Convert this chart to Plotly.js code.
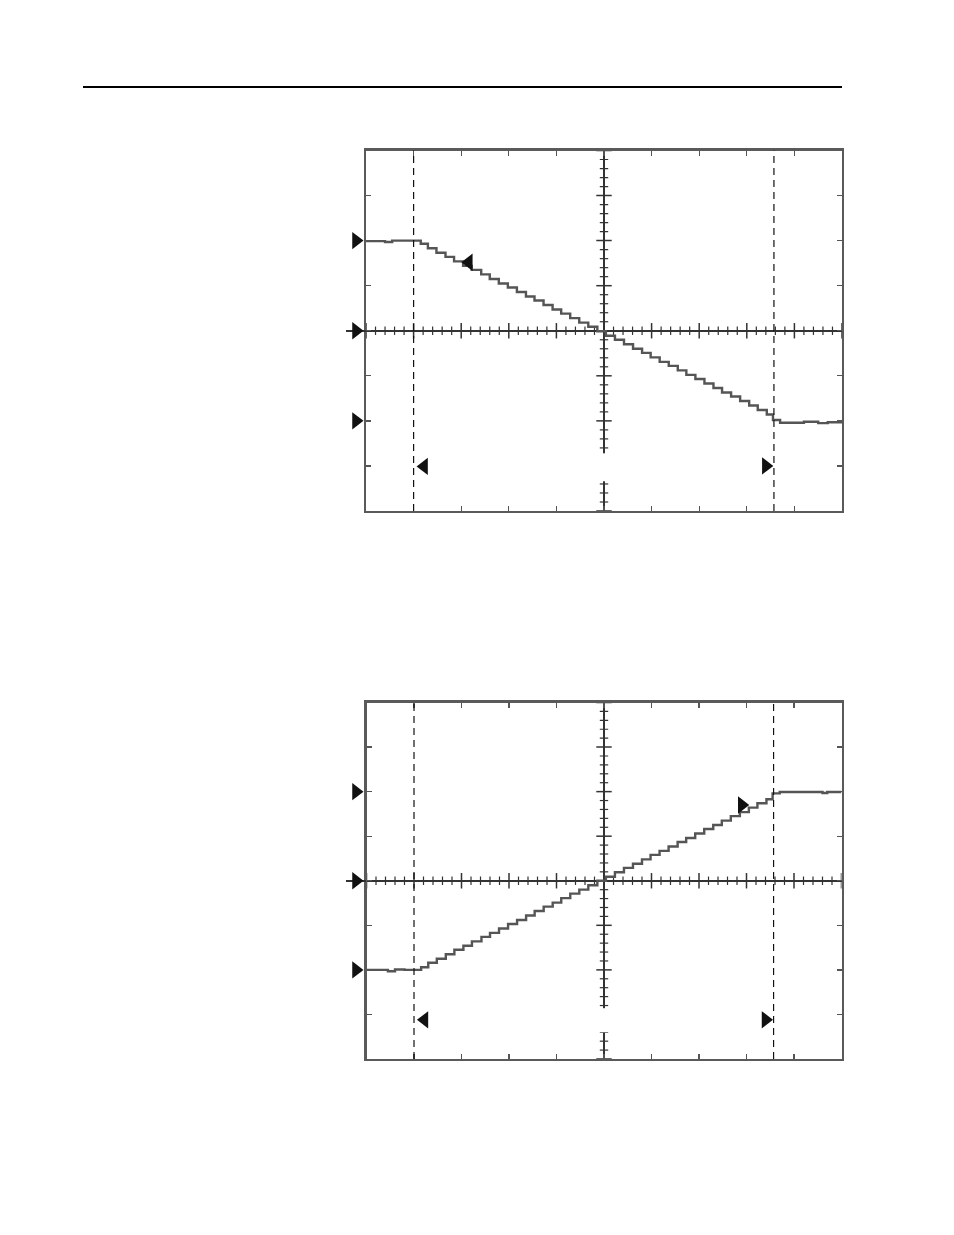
<!DOCTYPE html>
<html><head><meta charset="utf-8">
<script src="https://cdn.plot.ly/plotly-3.0.1.min.js"></script>
<style>html,body{margin:0;padding:0;background:#fff}</style>
</head><body><div id="chart" style="width:954px;height:1235px"></div>
<script>
// ---- Data (screen divisions: x -5..5, y -4..4) ----
const topX = [-5.0,-4.6,-4.45,-4.25,
  -4.0,-3.85,-3.7,-3.52,-3.33,-3.15,-2.96,-2.78,-2.58,-2.4,-2.21,-2.02,-1.83,-1.64,-1.46,-1.27,-1.08,-0.9,-0.71,-0.52,-0.33,-0.14,0.04,0.23,0.42,0.61,0.8,0.98,1.17,1.36,1.55,1.73,1.92,2.11,2.3,2.48,2.67,2.86,3.05,3.23,3.42,3.55,
  3.7,4.2,4.5,4.7,5.0];
const topY = [1.99,1.97,2.0,2.0,
  2.00,1.93,1.83,1.73,1.64,1.54,1.44,1.35,1.25,1.15,1.05,0.96,0.86,0.76,0.67,0.57,0.47,0.38,0.28,0.18,0.09,-0.01,-0.11,-0.20,-0.30,-0.40,-0.49,-0.59,-0.69,-0.78,-0.88,-0.98,-1.07,-1.17,-1.27,-1.37,-1.46,-1.56,-1.66,-1.76,-1.86,-1.98,
  -2.04,-2.02,-2.05,-2.03,-2.03];
const botX = [-5.0,-4.55,-4.4,-4.2,
  -4.0,-3.85,-3.7,-3.52,-3.33,-3.15,-2.96,-2.78,-2.58,-2.4,-2.21,-2.02,-1.83,-1.64,-1.46,-1.27,-1.08,-0.9,-0.71,-0.52,-0.33,-0.14,0.04,0.23,0.42,0.61,0.8,0.98,1.17,1.36,1.55,1.73,1.92,2.11,2.3,2.48,2.67,2.86,3.05,3.23,3.42,3.55,
  3.7,4.1,4.6,4.7,5.0];
const botY = [-2.0,-2.03,-1.99,-2.0,
  -2.00,-1.94,-1.84,-1.75,-1.65,-1.55,-1.46,-1.36,-1.26,-1.17,-1.07,-0.97,-0.88,-0.78,-0.68,-0.58,-0.49,-0.39,-0.29,-0.20,-0.10,0.00,0.09,0.19,0.29,0.38,0.48,0.58,0.67,0.77,0.87,0.96,1.06,1.16,1.25,1.35,1.45,1.54,1.64,1.74,1.83,1.96,
  1.99,1.99,1.97,1.99,1.99];
const levelMarksTop = [2, 0, -2];
const levelMarksBot = [2, 0, -2];
const cursorX = [-4.0, 3.57];
// cursor arrows: [x, y]
const topArrowsL = {x:[-2.84,-3.78], y:[1.52,-3.01]};
const topArrowsR = {x:[3.4], y:[-3.0]};
const botArrowsL = {x:[-3.78], y:[-3.12]};
const botArrowsR = {x:[2.9,3.4], y:[1.70,-3.12]};

// ---- Build ----
const traces = [];
function centerTicks(xa, ya){
  const mx=[],Mx=[],vy=[],VY=[];
  for(let i=-25;i<=25;i++){ const v=i/5; if(i%5===0){Mx.push(v);} else {mx.push(v);} }
  for(let i=-20;i<=20;i++){ const v=i/5; if(i%5===0){VY.push(v);} else {vy.push(v);} }
  const c='#333';
  traces.push({x:mx,y:mx.map(()=>0),xaxis:xa,yaxis:ya,mode:'markers',hoverinfo:'skip',
    marker:{symbol:'line-ns',size:6,line:{color:c,width:1.2}}});
  traces.push({x:Mx,y:Mx.map(()=>0),xaxis:xa,yaxis:ya,mode:'markers',hoverinfo:'skip',
    marker:{symbol:'line-ns',size:11,line:{color:c,width:1.5}}});
  traces.push({x:vy.map(()=>0),y:vy,xaxis:xa,yaxis:ya,mode:'markers',hoverinfo:'skip',
    marker:{symbol:'line-ew',size:6,line:{color:c,width:1.2}}});
  traces.push({x:VY.map(()=>0),y:VY,xaxis:xa,yaxis:ya,mode:'markers',hoverinfo:'skip',
    marker:{symbol:'line-ew',size:11,line:{color:c,width:1.5}}});
}
centerTicks('x','y');
centerTicks('x2','y2');

traces.push({x:topX,y:topY,xaxis:'x',yaxis:'y',mode:'lines',line:{shape:'hv',color:'#555',width:2.4},hoverinfo:'skip'});
traces.push({x:botX,y:botY,xaxis:'x2',yaxis:'y2',mode:'lines',line:{shape:'hv',color:'#555',width:2.4},hoverinfo:'skip'});

function tri(xs,ys,sym,xa,ya){
  traces.push({x:xs,y:ys,xaxis:xa,yaxis:ya,mode:'markers',hoverinfo:'skip',
    marker:{symbol:sym,size:15,color:'#111',line:{width:0}}});
}
// level markers on narrow strip axes left of each screen
tri(levelMarksTop.map(()=>0.5),levelMarksTop,'triangle-right','x3','y');
tri(levelMarksBot.map(()=>0.5),levelMarksBot,'triangle-right','x4','y2');
tri(topArrowsL.x,topArrowsL.y,'triangle-left','x','y');
tri(topArrowsR.x,topArrowsR.y,'triangle-right','x','y');
tri(botArrowsL.x,botArrowsL.y,'triangle-left','x2','y2');
tri(botArrowsR.x,botArrowsR.y,'triangle-right','x2','y2');

const axBase = {range:[-5,5],dtick:1,tick0:0,ticks:'inside',ticklen:5,tickwidth:1.3,tickcolor:'#555',
  showticklabels:false,showgrid:false,showline:true,mirror:'ticks',linecolor:'#5a5a5a',linewidth:2.2,
  zeroline:true,zerolinecolor:'#333',zerolinewidth:1.5,fixedrange:true};
const ayBase = Object.assign({},axBase,{range:[-4,4]});
const stripAx = {range:[0,1],visible:false,showgrid:false,zeroline:false,fixedrange:true};

const shapes = [];
cursorX.forEach(cx=>{
  shapes.push({type:'line',xref:'x',yref:'y domain',x0:cx,x1:cx,y0:0,y1:1,line:{color:'#111',width:1.2,dash:'7px,5px'}});
  shapes.push({type:'line',xref:'x2',yref:'y2 domain',x0:cx,x1:cx,y0:0,y1:1,line:{color:'#111',width:1.2,dash:'7px,5px'}});
});
// blanked label zone on the centre axis
shapes.push({type:'rect',xref:'x',yref:'y',x0:-0.25,x1:0.25,y0:-3.34,y1:-2.72,fillcolor:'#fff',line:{width:0},layer:'above'});
shapes.push({type:'rect',xref:'x2',yref:'y2',x0:-0.25,x1:0.25,y0:-3.4,y1:-2.86,fillcolor:'#fff',line:{width:0},layer:'above'});
// page rule
shapes.push({type:'line',xref:'paper',yref:'paper',x0:83/954,x1:842/954,y0:1-87/1235,y1:1-87/1235,line:{color:'#000',width:2}});

const layout = {
  width:954,height:1235,autosize:false,margin:{l:0,r:0,t:0,b:0,pad:0},
  paper_bgcolor:'#fff',plot_bgcolor:'rgba(0,0,0,0)',showlegend:false,
  xaxis:Object.assign({},axBase,{domain:[366/954,842/954],anchor:'y'}),
  yaxis:Object.assign({},ayBase,{domain:[1-511/1235,1-150.5/1235],anchor:'x'}),
  xaxis2:Object.assign({},axBase,{domain:[366.5/954,841.5/954],anchor:'y2'}),
  yaxis2:Object.assign({},ayBase,{domain:[1-1059/1235,1-702.5/1235],anchor:'x2'}),
  xaxis3:Object.assign({},stripAx,{domain:[346/954,366/954],anchor:'y'}),
  xaxis4:Object.assign({},stripAx,{domain:[346/954,366/954],anchor:'y2'}),
  shapes:shapes
};
Plotly.newPlot('chart',traces,layout,{staticPlot:true,displayModeBar:false});
</script></body></html>
